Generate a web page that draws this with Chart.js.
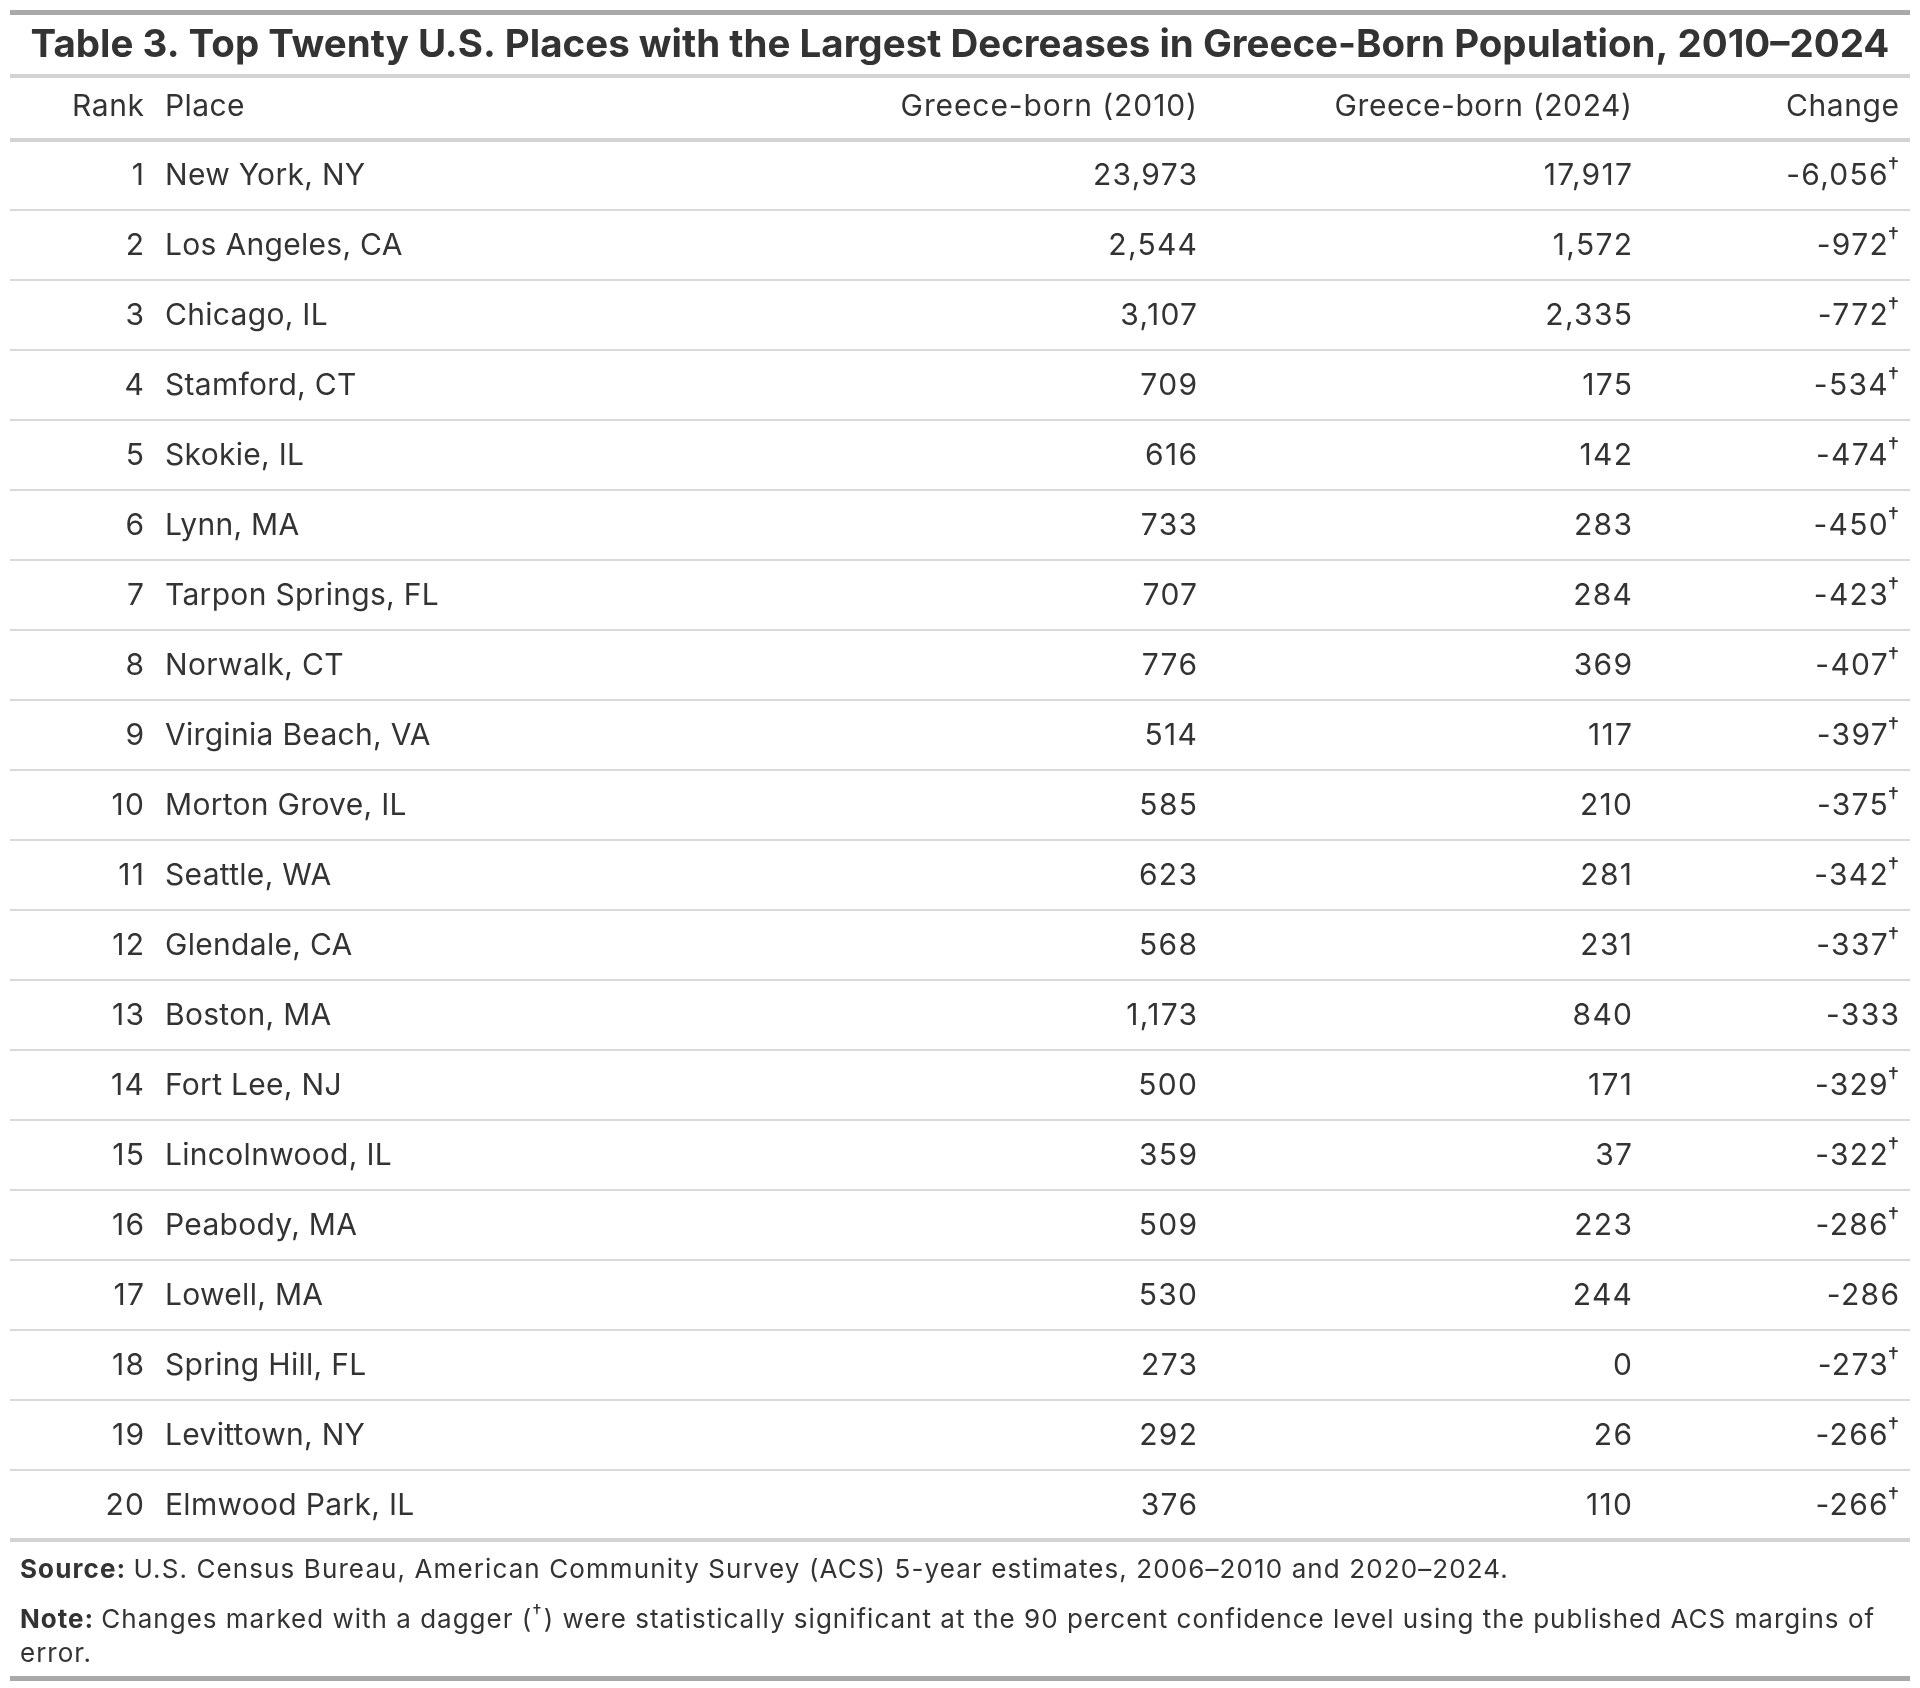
<!DOCTYPE html>
<html>
<head>
<meta charset="utf-8">
<title>Table 3. Greece-born population decreases</title>
<script src="https://cdn.jsdelivr.net/npm/chart.js@4.4.1/dist/chart.umd.min.js"></script>
<style>
  html, body { margin: 0; padding: 0; background: #ffffff; }
  canvas { display: block; }
</style>
</head>
<body>
<canvas id="table3" width="1920" height="1688"></canvas>
<script>
// table data
const ranks = [1, 2, 3, 4, 5, 6, 7, 8, 9, 10, 11, 12, 13, 14, 15, 16, 17, 18, 19, 20];
const places = [
    'New York, NY', 'Los Angeles, CA', 'Chicago, IL', 'Stamford, CT', 'Skokie, IL',
    'Lynn, MA', 'Tarpon Springs, FL', 'Norwalk, CT', 'Virginia Beach, VA', 'Morton Grove, IL',
    'Seattle, WA', 'Glendale, CA', 'Boston, MA', 'Fort Lee, NJ', 'Lincolnwood, IL',
    'Peabody, MA', 'Lowell, MA', 'Spring Hill, FL', 'Levittown, NY', 'Elmwood Park, IL'
];
const born2010 = [23973, 2544, 3107, 709, 616, 733, 707, 776, 514, 585, 623, 568, 1173, 500, 359, 509, 530, 273, 292, 376];
const born2024 = [17917, 1572, 2335, 175, 142, 283, 284, 369, 117, 210, 281, 231, 840, 171, 37, 223, 244, 0, 26, 110];
const change = [-6056, -972, -772, -534, -474, -450, -423, -407, -397, -375, -342, -337, -333, -329, -322, -286, -286, -273, -266, -266];
const significant = [true, true, true, true, true, true, true, true, true, true, true, true, false, true, true, true, false, true, true, true];
const headers = ['Rank', 'Place', 'Greece-born (2010)', 'Greece-born (2024)', 'Change'];

const titleText = 'Table 3. Top Twenty U.S. Places with the Largest Decreases in Greece-Born Population, 2010\u20132024';
const sourceText = 'U.S. Census Bureau, American Community Survey (ACS) 5-year estimates, 2006\u20132010 and 2020\u20132024.';
const noteLine1a = 'Changes marked with a dagger (';
const noteLine1b = ') were statistically significant at the 90 percent confidence level using the published ACS margins of';
const noteLine2 = 'error.';

const FONT = 'Inter, "Noto Sans", sans-serif';
const TEXT = '#333333';
const DAGGER = '\u2020';

// column anchors on the x scale (same units as pixels)
const colX = { rank: 144, place: 165, y2010: 1197, y2024: 1632, change: 1899 };

function fmt(n) {
    return n.toLocaleString('en-US');
}

// right aligned text, letterSpacing trail removed
function textRight(ctx, str, xRight, y, spacing) {
    ctx.letterSpacing = spacing + 'px';
    ctx.textAlign = 'right';
    ctx.fillText(str, xRight + spacing, y);
}

function drawDaggerRight(ctx, str, xRight, y) {
    ctx.font = '23px ' + FONT;
    ctx.letterSpacing = '0px';
    const dw = ctx.measureText(DAGGER).width;
    ctx.textAlign = 'right';
    ctx.fillText(DAGGER, xRight, y - 9);
    ctx.font = '30px ' + FONT;
    textRight(ctx, str, xRight - dw, y, 1.3);
}

const tablePlugin = {
    id: 'tableText',
    afterDraw(chart) {
        const ctx = chart.ctx;
        const x = chart.scales.x;
        const y = chart.scales.y;
        const area = chart.chartArea;
        ctx.save();
        ctx.textBaseline = 'middle';

        // outer rules
        ctx.fillStyle = '#a9a9a9';
        ctx.fillRect(area.left, 10, area.right - area.left, 5);
        ctx.fillRect(area.left, 1676, area.right - area.left, 5);
        ctx.fillStyle = '#d3d3d3';
        ctx.fillRect(area.left, 74, area.right - area.left, 4);

        // title
        ctx.fillStyle = TEXT;
        ctx.font = 'bold 38.5px ' + FONT;
        ctx.letterSpacing = '0px';
        ctx.textAlign = 'center';
        ctx.fillText(titleText, (area.left + area.right) / 2, 45);

        // header row
        const hy = area.top - 33;
        ctx.font = '30px ' + FONT;
        textRight(ctx, headers[0], x.getPixelForValue(colX.rank), hy, 0.6);
        ctx.letterSpacing = '0.4px';
        ctx.textAlign = 'left';
        ctx.fillText(headers[1], x.getPixelForValue(colX.place), hy);
        textRight(ctx, headers[2], x.getPixelForValue(colX.y2010), hy, 0.9);
        textRight(ctx, headers[3], x.getPixelForValue(colX.y2024), hy, 0.6);
        textRight(ctx, headers[4], x.getPixelForValue(colX.change), hy, 0.6);

        // body rows
        ranks.forEach((r, i) => {
            const cy = y.getPixelForValue(i) + 1;
            ctx.font = '30px ' + FONT;
            textRight(ctx, String(r), x.getPixelForValue(colX.rank), cy, 1.3);
            ctx.letterSpacing = '0.3px';
            ctx.textAlign = 'left';
            ctx.fillText(places[i], x.getPixelForValue(colX.place), cy);
            textRight(ctx, fmt(born2010[i]), x.getPixelForValue(colX.y2010), cy, 1.3);
            textRight(ctx, fmt(born2024[i]), x.getPixelForValue(colX.y2024), cy, 1.3);
            if (significant[i]) {
                drawDaggerRight(ctx, fmt(change[i]), x.getPixelForValue(colX.change), cy);
            } else {
                textRight(ctx, fmt(change[i]), x.getPixelForValue(colX.change), cy, 1.3);
            }
        });

        // footer
        ctx.textAlign = 'left';
        ctx.letterSpacing = '1.1px';
        let fx = 20;
        ctx.font = 'bold 26px ' + FONT;
        ctx.fillText('Source:', fx, 1570);
        fx += ctx.measureText('Source: ').width;
        ctx.font = '26px ' + FONT;
        ctx.fillText(sourceText, fx, 1570);

        ctx.letterSpacing = '1px';
        fx = 20;
        ctx.font = 'bold 26px ' + FONT;
        ctx.fillText('Note:', fx, 1620);
        fx += ctx.measureText('Note: ').width;
        ctx.font = '26px ' + FONT;
        ctx.fillText(noteLine1a, fx, 1620);
        fx += ctx.measureText(noteLine1a).width;
        ctx.font = '19px ' + FONT;
        ctx.fillText(DAGGER, fx, 1612);
        fx += ctx.measureText(DAGGER).width + 1;
        ctx.font = '26px ' + FONT;
        ctx.fillText(noteLine1b, fx, 1620);
        ctx.fillText(noteLine2, 20, 1654);
        ctx.restore();
    }
};

const ctx1 = document.getElementById('table3').getContext('2d');

const table3 = new Chart(ctx1, {
    type: 'bar',
    data: {
        labels: places,
        datasets: [{
            label: 'Change',
            data: change,
            hidden: true
        }]
    },
    options: {
        indexAxis: 'y',
        responsive: false,
        animation: false,
        devicePixelRatio: 1,
        layout: {
            padding: { top: 140, bottom: 148, left: 10, right: 10 }
        },
        plugins: {
            legend: { display: false },
            tooltip: { enabled: false },
            title: { display: false }
        },
        scales: {
            x: {
                type: 'linear',
                display: false,
                min: 10,
                max: 1910
            },
            y: {
                type: 'category',
                offset: true,
                border: { display: false },
                ticks: { display: false },
                grid: {
                    offset: true,
                    drawTicks: false,
                    // header rule on top, heavier rule under the last row
                    color: c => (c.index === undefined || c.index === 0) ? '#d3d3d3' : '#d9d9d9',
                    lineWidth: c => (c.index === undefined || c.index === 0) ? 4 : 2
                }
            }
        }
    },
    plugins: [tablePlugin]
});
</script>
</body>
</html>
